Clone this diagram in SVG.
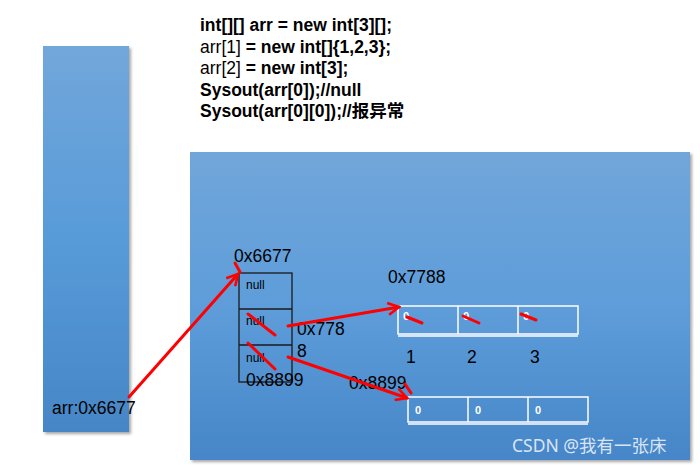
<svg xmlns="http://www.w3.org/2000/svg" width="700" height="465" viewBox="0 0 700 465">
<defs>
<linearGradient id="gL" x1="0" y1="0" x2="0" y2="1"><stop offset="0" stop-color="#72A7DA"/><stop offset="0.5" stop-color="#589BD9"/><stop offset="1" stop-color="#4686C6"/></linearGradient>
<linearGradient id="gB" x1="0" y1="0" x2="0" y2="1"><stop offset="0" stop-color="#71A6DA"/><stop offset="0.5" stop-color="#5E9DDA"/><stop offset="1" stop-color="#4686C8"/></linearGradient>
<filter id="sh" x="-5%" y="-5%" width="115%" height="115%"><feDropShadow dx="2" dy="2" stdDeviation="1.5" flood-color="#000" flood-opacity="0.35"/></filter>
<marker id="ah" viewBox="0 0 14 14" refX="12" refY="7" markerWidth="14" markerHeight="14" markerUnits="userSpaceOnUse" orient="auto"><path d="M1,1 L12,7 L1,13" fill="none" stroke="#FF0000" stroke-width="2.6"/></marker>
</defs>
<style>
.code{font-family:"Liberation Sans",Arial,sans-serif;font-size:17.5px;fill:#000}
.b{font-weight:bold}
.lbl{font-family:"Liberation Sans",Arial,sans-serif;font-size:17.5px;fill:#000}
.nul{font-family:"Liberation Sans",Arial,sans-serif;font-size:12px;fill:#000}
.z{font-family:"Liberation Sans",Arial,sans-serif;font-size:11px;font-weight:bold;fill:#fff}
.cell{fill:none;stroke:#fff;stroke-width:1.5}
.blk{fill:none;stroke:#1a1a1a;stroke-width:1.3}
.red{stroke:#FF0000;stroke-width:3;fill:none;stroke-linecap:round}
</style>
<rect width="700" height="465" fill="#fff"/>
<g id="stack"><rect x="43" y="46" width="86" height="386" fill="url(#gL)" filter="url(#sh)"/>
<text class="lbl" x="52" y="414">arr:0x6677</text></g>
<g id="heap"><rect x="190" y="152" width="500" height="308" fill="url(#gB)" filter="url(#sh)"/></g>
<g id="code">
<text class="code b" x="200" y="31">int[][] arr = new int[3][];</text>
<text class="code" x="200" y="53">arr[1] <tspan class="b">= new int[]{1,2,3};</tspan></text>
<text class="code" x="200" y="74">arr[2] <tspan class="b">= new int[3];</tspan></text>
<text class="code b" x="200" y="96">Sysout(arr[0]);//null</text>
<text class="code b" x="200" y="117">Sysout(arr[0][0]);//<tspan font-family="'Noto Sans CJK SC',sans-serif">报异常</tspan></text>
</g>
<g id="outer">
<text class="lbl" x="234" y="262">0x6677</text>
<rect class="blk" x="239" y="273" width="53" height="109"/>
<line class="blk" x1="239" y1="309" x2="292" y2="309"/>
<line class="blk" x1="239" y1="345" x2="292" y2="345"/>
<text class="nul" x="246" y="289">null</text>
<text class="nul" x="246" y="325">null</text>
<text class="nul" x="246" y="362">null</text>
<text class="lbl" x="246" y="386">0x8899</text>
<text class="lbl" x="297" y="335">0x778</text>
<text class="lbl" x="297" y="357">8</text>
</g>
<g id="arr1">
<text class="lbl" x="388" y="283">0x7788</text>
<rect class="cell" x="398" y="306" width="180" height="28"/>
<line class="cell" x1="398" y1="336" x2="578" y2="336" stroke-width="2"/>
<line class="cell" x1="458" y1="306" x2="458" y2="334"/>
<line class="cell" x1="518" y1="306" x2="518" y2="334"/>
<text class="z" x="403" y="320">0</text>
<text class="z" x="463" y="320">0</text>
<text class="z" x="523" y="320">0</text>
<text class="lbl" x="406" y="363">1</text>
<text class="lbl" x="467" y="363">2</text>
<text class="lbl" x="530" y="363">3</text>
</g>
<g id="arr2">
<text class="lbl" x="349" y="389">0x8899</text>
<rect class="cell" x="408" y="397" width="180" height="25"/>
<line class="cell" x1="408" y1="424" x2="588" y2="424" stroke-width="2"/>
<line class="cell" x1="468" y1="397" x2="468" y2="422"/>
<line class="cell" x1="528" y1="397" x2="528" y2="422"/>
<text class="z" x="415" y="414">0</text>
<text class="z" x="475" y="414">0</text>
<text class="z" x="535" y="414">0</text>
</g>
<g id="connectors">
<line class="red" x1="129" y1="397" x2="238" y2="274" marker-end="url(#ah)"/>
<line class="red" x1="288" y1="326" x2="399" y2="307" marker-end="url(#ah)"/>
<line class="red" x1="288" y1="357" x2="407" y2="398" marker-end="url(#ah)"/>
<line class="red" x1="235" y1="263" x2="240" y2="272"/>
<line class="red" x1="405" y1="384" x2="411" y2="393"/>
<line class="red" x1="248" y1="314" x2="275" y2="335"/>
<line class="red" x1="248" y1="343" x2="275" y2="369"/>
<line class="red" x1="407" y1="317" x2="422" y2="323"/>
<line class="red" x1="463" y1="316" x2="479" y2="323"/>
<line class="red" x1="521" y1="314" x2="536" y2="320"/>
</g>
<text x="512" y="452" font-family="'Noto Sans','Noto Sans CJK SC',sans-serif" font-size="17.5" fill="#fff" fill-opacity="0.8">CSDN @我有一张床</text>
</svg>
